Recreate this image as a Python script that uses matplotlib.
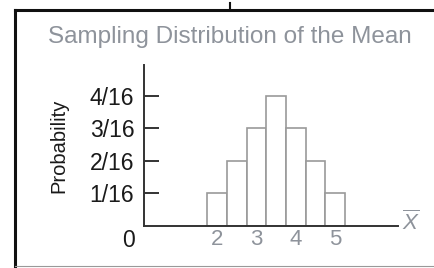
import matplotlib
matplotlib.use("Agg")
import matplotlib.pyplot as plt
from matplotlib.lines import Line2D

# -------------------------------------------------------
# Données
# -------------------------------------------------------

means = [2, 2.5, 3, 3.5, 4, 4.5, 5]
counts = [1, 2, 3, 4, 3, 2, 1]          # sur 16
probs = [c / 16 for c in counts]

y_ticks = [1 / 16, 2 / 16, 3 / 16, 4 / 16]
y_labels = ["1/16", "2/16", "3/16", "4/16"]
x_ticks = [2, 3, 4, 5]
x_labels = ["2", "3", "4", "5"]

# -------------------------------------------------------
# Figure
# -------------------------------------------------------

plt.rcParams["font.family"] = ["Liberation Sans", "DejaVu Sans"]
plt.rcParams["mathtext.fontset"] = "custom"
plt.rcParams["mathtext.rm"] = "Liberation Sans"
plt.rcParams["mathtext.it"] = "Liberation Sans:italic"

W, H = 434, 268
fig = plt.figure(figsize=(W / 100, H / 100), dpi=100)

# cadre autour du graphique
fig.add_artist(Line2D([15 / W, 1], [1 - 10 / H, 1 - 10 / H], color="#111111", lw=2.2))
fig.add_artist(Line2D([15 / W, 15 / W], [1 - 10 / H, 0], color="#111111", lw=2.2))
fig.add_artist(Line2D([15 / W, 1], [1 - 266 / H, 1 - 266 / H], color="#999999", lw=0.8))
fig.add_artist(Line2D([230 / W, 230 / W], [1 - 9 / H, 1 - 3 / H], color="#111111", lw=1.5))

gray = "#8e939b"
dark = "#1a1a1a"

fig.text(230 / W, 1 - 37 / H, "Sampling Distribution of the Mean",
         ha="center", va="center", fontsize=17.5, color=gray)

ax = fig.add_axes([144 / W, 1 - 226 / H, (398 - 144) / W, (226 - 65) / H])

ax.bar(means, probs, width=0.5, color="white", edgecolor="#9a9a9a", linewidth=1.2)

ax.set_xlim(0.14, 6.6)
ax.set_ylim(0, 4.95 / 16)

for side in ["top", "right"]:
    ax.spines[side].set_visible(False)
ax.spines["left"].set_color("#333333")
ax.spines["bottom"].set_color("#333333")
ax.spines["left"].set_linewidth(1.4)
ax.spines["bottom"].set_linewidth(1.4)

ax.set_yticks(y_ticks)
ax.set_yticklabels(y_labels)
ax.tick_params(axis="y", direction="in", length=11, width=1.4, color="#333333",
               labelsize=16.5, labelcolor=dark, pad=7)

ax.set_xticks(x_ticks)
ax.set_xticklabels(x_labels)
ax.tick_params(axis="x", length=0, labelsize=16, labelcolor=gray, pad=2)

ax.text(-0.035, -0.02, "0", transform=ax.transAxes, ha="right", va="top",
        fontsize=16.5, color=dark)
ax.text(1.015, 0.02, r"$\overline{X}$", transform=ax.transAxes, ha="left",
        va="center", fontsize=16, color=gray)

ax.set_ylabel("Probability", fontsize=14.5, color=dark, labelpad=15)

plt.savefig("out.png", dpi=100)
